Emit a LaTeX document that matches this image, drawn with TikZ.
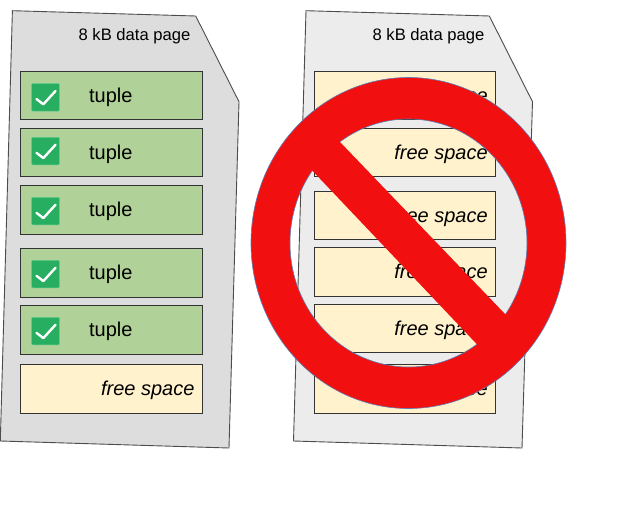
\documentclass[tikz,border=0pt]{standalone}
\usepackage{fontspec}
\setmainfont{Liberation Sans}
\definecolor{pageL}{HTML}{DDDDDD}
\definecolor{pageR}{HTML}{ECECEC}
\definecolor{tupfill}{HTML}{B0D197}
\definecolor{freefill}{HTML}{FFF2CC}
\definecolor{chk}{HTML}{27AE60}
\definecolor{chkedge}{HTML}{5FCB8E}
\definecolor{nored}{HTML}{F20F0F}
\definecolor{noedge}{HTML}{5B7FB5}
\tikzset{
  pageshape/.style={draw=black!70,line width=0.9pt,line join=miter},
  slot/.style={draw=black!80,line width=1pt},
  tuplebox/.style={slot,fill=tupfill},
  freebox/.style={slot,fill=freefill},
  titletext/.style={anchor=base east,inner sep=0pt,font=\fontsize{16.6}{18}\selectfont},
  tupletext/.style={anchor=base,inner sep=0pt,font=\fontsize{20}{22}\selectfont},
  freetext/.style={anchor=base east,inner sep=0pt,font=\fontsize{20}{22}\selectfont\itshape},
  checkbox/.style={fill=chk,draw=chkedge,line width=0.5pt,rounded corners=0.8pt},
  checkmark/.style={draw=white,line width=2.4pt,line cap=round,line join=round}
}
% #1 = top, #2 = bottom, #3 = name, #4 = top of the check box
\newcommand{\tuplerow}[4]{%
  \draw[tuplebox] (20.5,#1) rectangle (202.2,#2);
  \node[tupletext] (#3) at (110.8,{#1+31}) {tuple};
  \begin{scope}[shift={(0,{#4-83.5})}]
    \draw[checkbox] (31.7,83.5) rectangle (59.3,111);
    \draw[checkmark] (36.5,99) -- (43.3,104.3) -- (55.5,91);
  \end{scope}
}
\newcommand{\freerow}[5]{%
  \draw[freebox] (#1,#3) rectangle (#2,#4);
  \node[freetext] (#5) at ({#2-7.5},{#3+31}) {free space};
}
\begin{document}
\begin{tikzpicture}[x=1pt,y=-1pt]
\useasboundingbox (0,0) rectangle (618,522);
% left page
\draw[pageshape,fill=pageL] (12.4,10.7) -- (195.7,16) -- (239,101.7) -- (229,448) -- (0.3,441) -- cycle;
\node[titletext] (titleL) at (190.5,40.5) {8 kB data page};
\tuplerow{71}{119.5}{t1}{83.5}
\tuplerow{128}{176.5}{t2}{137.3}
\tuplerow{185.5}{234}{t3}{197.3}
\tuplerow{248}{297}{t4}{260.3}
\tuplerow{305}{354}{t5}{317.3}
\freerow{20.5}{202.2}{364.5}{413}{fL}
% right page
\draw[pageshape,fill=pageR] (306,10.7) -- (489.3,16) -- (532.5,101.7) -- (522,448) -- (293.5,441) -- cycle;
\node[titletext] (titleR) at (484.5,40.5) {8 kB data page};
\freerow{314}{495.4}{71}{119.5}{f1}
\freerow{314}{495.4}{128}{176.5}{f2}
\freerow{314}{495.4}{191}{239.5}{f3}
\freerow{314}{495.4}{247.5}{296}{f4}
\freerow{314}{495.4}{304.5}{352.5}{f5}
\freerow{314}{495.4}{364.5}{413}{f6}
% prohibition sign
\draw[draw=noedge,line width=0.6pt,fill=nored,even odd rule]
  (408.5,243) ellipse [x radius=157.5,y radius=165.5]
  (408.5,243) ellipse [x radius=118.5,y radius=124];
\fill[nored] (340,142) -- (505,314) -- (515,325) -- (487,355) -- (476.7,344) -- (313.3,171.7) -- (303,160) -- (330,131) -- cycle;
\end{tikzpicture}
\end{document}
